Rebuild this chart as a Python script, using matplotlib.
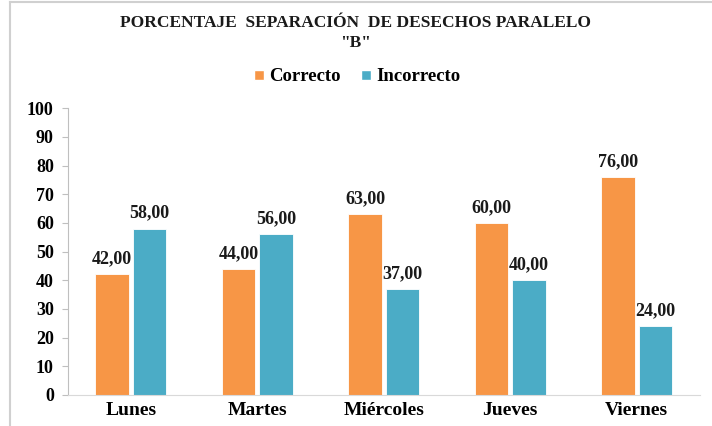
import numpy as np
import matplotlib
matplotlib.use('Agg')
import matplotlib.pyplot as plt
from matplotlib.lines import Line2D

# datos
dias = ['Lunes', 'Martes', 'Miércoles', 'Jueves', 'Viernes']
correcto = [42.00, 44.00, 63.00, 60.00, 76.00]
incorrecto = [58.00, 56.00, 37.00, 40.00, 24.00]
y_ticks = list(range(0, 101, 10))

COLOR_OK = '#F79646'
COLOR_BAD = '#4BACC6'

plt.rcParams['font.family'] = ['Liberation Serif', 'DejaVu Serif']
plt.rcParams['font.weight'] = 'bold'

fig = plt.figure(figsize=(7.12, 4.26), dpi=100)
ax = fig.add_axes([0.095, 0.073, 0.888, 0.673])

x = np.arange(len(dias))
w = 0.265
gap = 0.032
b1 = ax.bar(x - (w + gap) / 2, correcto, w, color=COLOR_OK, edgecolor='white', linewidth=0.6, label='Correcto')
b2 = ax.bar(x + (w + gap) / 2, incorrecto, w, color=COLOR_BAD, edgecolor='white', linewidth=0.6, label='Incorrecto')

for bars in (b1, b2):
	for r in bars:
		h = r.get_height()
		ax.annotate(f'{h:.2f}'.replace('.', ','), (r.get_x() + r.get_width() / 2, h),
			xytext=(0, 5), textcoords='offset points', ha='center', va='bottom',
			fontsize=13, fontweight='bold', color='#1a1a1a')

ax.set_xlim(-0.5, len(dias) - 0.5)
ax.set_ylim(0, 100)
ax.set_yticks(y_ticks)
ax.set_xticks(x)
ax.set_xticklabels(dias, fontsize=14, fontweight='bold')
ax.tick_params(axis='y', labelsize=13, length=4, color='#bfbfbf', pad=6)
ax.tick_params(axis='x', length=0, pad=5)
for lbl in ax.get_yticklabels():
	lbl.set_fontweight('bold')
for s in ('top', 'right'):
	ax.spines[s].set_visible(False)
ax.spines['left'].set_color('#bfbfbf')
ax.spines['bottom'].set_color('#d9d9d9')

fig.text(0.5, 0.947, 'PORCENTAJE  SEPARACIÓN  DE DESECHOS PARALELO', ha='center', va='center',
	fontsize=12.5, fontweight='bold', color='#1a1a1a')
fig.text(0.5, 0.900, '"B"', ha='center', va='center', fontsize=12.5, fontweight='bold', color='#1a1a1a')

handles = [Line2D([0], [0], marker='s', color='w', markerfacecolor=COLOR_OK, markersize=7),
	Line2D([0], [0], marker='s', color='w', markerfacecolor=COLOR_BAD, markersize=7)]
fig.legend(handles, ['Correcto', 'Incorrecto'], loc='center', bbox_to_anchor=(0.5, 0.82), ncol=2,
	frameon=False, prop={'weight': 'bold', 'size': 13.5}, handlelength=0.7, handletextpad=0.2, columnspacing=1.0)

# marco gris de la captura (arriba e izquierda)
fig.add_artist(Line2D([0.014, 1.0], [0.995, 0.995], transform=fig.transFigure, color='#d0d0d0', lw=1.5))
fig.add_artist(Line2D([0.014, 0.014], [0.0, 0.995], transform=fig.transFigure, color='#d0d0d0', lw=1.5))

fig.savefig('out.png', dpi=100)
